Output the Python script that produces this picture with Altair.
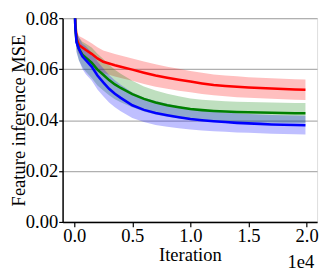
import altair as alt
import pandas as pd

iters = [0, 100, 200, 400, 700, 1000, 1500, 2000, 2500, 3000, 3500, 4000, 5000, 6000,
         7000, 8000, 9000, 10000, 11000, 12000, 13000, 14000, 15000, 16000, 17000,
         18000, 19000, 19900]

red_mean = [0.090, 0.078, 0.072, 0.0695, 0.0685, 0.0675, 0.0660, 0.0642, 0.0629, 0.0622,
            0.0615, 0.0609, 0.0598, 0.0586, 0.0575, 0.0566, 0.0558, 0.0551, 0.0544, 0.0538,
            0.0534, 0.0531, 0.0528, 0.0526, 0.0524, 0.0522, 0.0520, 0.0519]
red_std = [0.002, 0.003, 0.0035, 0.0035, 0.0038, 0.004, 0.0042, 0.0044, 0.0044, 0.0044,
           0.0044, 0.0044, 0.0044, 0.0044, 0.0044, 0.0043, 0.0043, 0.0042, 0.0042, 0.0041,
           0.0041, 0.0041, 0.0040, 0.0040, 0.0040, 0.0040, 0.0040, 0.0040]

green_mean = [0.090, 0.076, 0.071, 0.068, 0.0657, 0.0645, 0.0625, 0.0598, 0.0578, 0.0557,
              0.0540, 0.0526, 0.0502, 0.0483, 0.0469, 0.0458, 0.0450, 0.0443, 0.0439, 0.0436,
              0.0434, 0.0432, 0.0431, 0.0430, 0.0429, 0.0428, 0.0427, 0.0427]
green_std = [0.002, 0.003, 0.004, 0.0045, 0.005, 0.0055, 0.006, 0.0062, 0.0062, 0.006,
             0.0058, 0.0056, 0.0052, 0.0049, 0.0047, 0.0045, 0.0043, 0.0042, 0.0041, 0.0041,
             0.0040, 0.0040, 0.0040, 0.0040, 0.0040, 0.0040, 0.0040, 0.0040]

blue_mean = [0.090, 0.076, 0.0705, 0.068, 0.065, 0.0635, 0.0610, 0.0575, 0.0548, 0.0523,
             0.0503, 0.0487, 0.0458, 0.0440, 0.0428, 0.0419, 0.0411, 0.0404, 0.0399, 0.0395,
             0.0392, 0.0389, 0.0387, 0.0385, 0.0383, 0.0382, 0.0381, 0.0380]
blue_std = [0.002, 0.003, 0.004, 0.0045, 0.005, 0.0055, 0.0055, 0.0055, 0.0055, 0.0054,
            0.0053, 0.0052, 0.005, 0.0048, 0.0047, 0.0045, 0.0043, 0.0041, 0.004, 0.0039,
            0.0038, 0.0038, 0.0037, 0.0037, 0.0037, 0.0037, 0.0037, 0.0037]

series = [("red", red_mean, red_std),
          ("green", green_mean, green_std),
          ("blue", blue_mean, blue_std)]

rows = []
for name, m, s in series:
    for i, mm, ss in zip(iters, m, s):
        rows.append({"it": i, "mean": mm, "lo": mm - ss, "hi": mm + ss, "s": name})
df = pd.DataFrame(rows)

FONT = "Liberation Serif"
FS = 19
xsc = alt.Scale(domain=[-1000, 20900], nice=False, zero=False)
ysc = alt.Scale(domain=[0, 0.08], nice=False)
color = alt.Scale(domain=["red", "green", "blue"], range=["#ff0000", "#008000", "#0000ff"])

xax = alt.Axis(values=[0, 5000, 10000, 15000, 20000],
               labelExpr="format(datum.value/10000, '.1f')",
               title="Iteration", grid=False, tickSize=5, tickColor="black",
               domainColor="black", domainWidth=1.5, tickWidth=1.2,
               labelFont=FONT, labelFontSize=FS, labelColor="black", labelPadding=0,
               titleFont=FONT, titleFontSize=FS, titleFontWeight="normal",
               titleColor="black", titlePadding=1)
yax = alt.Axis(values=[0, 0.02, 0.04, 0.06, 0.08], format=".2f",
               title="Feature inference MSE", grid=True, gridColor="#b0b0b0",
               gridWidth=1.3, tickSize=4, tickColor="black", tickWidth=1.2,
               domainColor="black", domainWidth=1.5,
               labelFont=FONT, labelFontSize=FS, labelColor="black", labelPadding=1,
               titleFont=FONT, titleFontSize=FS, titleFontWeight="normal",
               titleColor="black", titleX=-35)

base = alt.Chart(df)
band = base.mark_area(opacity=0.25, clip=True).encode(
    x=alt.X("it:Q", scale=xsc, axis=xax),
    y=alt.Y("lo:Q", scale=ysc, axis=yax),
    y2="hi:Q",
    color=alt.Color("s:N", scale=color, legend=None),
    detail="s:N",
)
line = base.mark_line(strokeWidth=2.6, clip=True).encode(
    x=alt.X("it:Q", scale=xsc),
    y=alt.Y("mean:Q", scale=ysc),
    color=alt.Color("s:N", scale=color, legend=None),
)
offset = alt.Chart(pd.DataFrame({"t": ["1e4"]})).mark_text(
    font=FONT, fontSize=FS, align="right", baseline="middle", color="black"
).encode(x=alt.value(258), y=alt.value(250), text="t:N")

chart = alt.layer(band, line, offset).properties(
    width=261, height=209,
    padding={"left": 56, "top": 7, "right": 3, "bottom": 52},
    autosize=alt.AutoSizeParams(type="none"),
).configure_view(stroke="black", strokeWidth=1.5).configure(background="white")

chart.save("out.html", embed_options={"renderer": "svg", "actions": False})
